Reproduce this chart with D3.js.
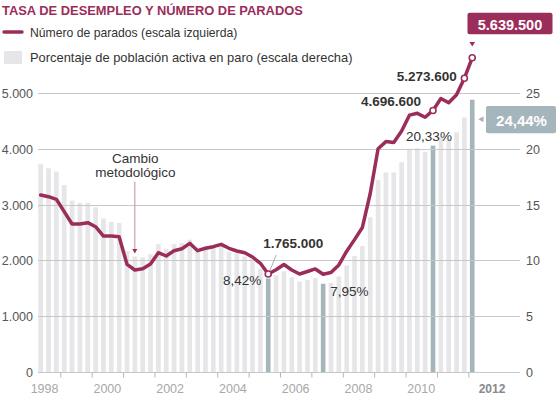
<!DOCTYPE html>
<html>
<head>
<meta charset="utf-8">
<script src="https://cdn.jsdelivr.net/npm/d3@7/dist/d3.min.js"></script>
<style>
  body { margin: 0; background: #fff; }
  svg { display: block; font-family: Arial, "Liberation Sans", sans-serif; }
</style>
</head>
<body>
<svg id="chart" width="560" height="398"></svg>
<script>
// trimestres (año-trimestre), de 1998 T2 a 2012 T1
const trimestres = [
  "1998-2","1998-3","1998-4",
  "1999-1","1999-2","1999-3","1999-4",
  "2000-1","2000-2","2000-3","2000-4",
  "2001-1","2001-2","2001-3","2001-4",
  "2002-1","2002-2","2002-3","2002-4",
  "2003-1","2003-2","2003-3","2003-4",
  "2004-1","2004-2","2004-3","2004-4",
  "2005-1","2005-2","2005-3","2005-4",
  "2006-1","2006-2","2006-3","2006-4",
  "2007-1","2007-2","2007-3","2007-4",
  "2008-1","2008-2","2008-3","2008-4",
  "2009-1","2009-2","2009-3","2009-4",
  "2010-1","2010-2","2010-3","2010-4",
  "2011-1","2011-2","2011-3","2011-4",
  "2012-1"
];

// número de parados, miles (escala izquierda)
const parados = [
  3181, 3151, 3104,
  2882, 2661, 2661, 2685,
  2613, 2446, 2446, 2434,
  1939, 1837, 1858, 1944,
  2147, 2088, 2183, 2219,
  2315, 2183, 2226, 2255,
  2297, 2226, 2177, 2147,
  2070, 1957, 1765, 1841,
  1936, 1837, 1765, 1810,
  1856, 1760, 1791, 1927,
  2174, 2381, 2599, 3208,
  4010, 4138, 4123, 4327,
  4612, 4645, 4575, 4696.6,
  4910, 4833, 4978, 5273.6,
  5639.5
];

// tasa de paro, % (escala derecha)
const tasa = [
  18.7, 18.3, 18.0,
  16.8, 15.4, 15.2, 15.2,
  14.8, 13.8, 13.5, 13.4,
  10.9, 10.4, 10.3, 10.6,
  11.5, 11.1, 11.5, 11.6,
  11.9, 11.0, 11.3, 11.3,
  11.4, 10.8, 10.7, 10.4,
  10.2, 9.33, 8.42, 8.70,
  9.07, 8.53, 8.15, 8.30,
  8.47, 7.95, 8.03, 8.60,
  9.60, 10.44, 11.33, 13.91,
  17.24, 17.92, 17.93, 18.83,
  20.05, 20.09, 19.79, 20.33,
  21.1, 20.89, 21.52, 22.85,
  24.44
];

const ticksIzq = [0, 1000, 2000, 3000, 4000, 5000];
const ticksDer = [0, 5, 10, 15, 20, 25];
const marcasAnio = [1999, 2000, 2001, 2002, 2003, 2004, 2005, 2006, 2007, 2008, 2009, 2010, 2011, 2012];
const etiquetasAnio = [1998, 2000, 2002, 2004, 2006, 2008, 2010];

const destacados = ["2005-3", "2007-2", "2010-4", "2012-1"];
const conCirculo = ["2005-3", "2010-4", "2011-4", "2012-1"];

const granate = "#9b2d5b";
const grisBarra = "#e6e6e9";
const azulGris = "#a5b5bc";
const fuente = "Arial, 'Liberation Sans', sans-serif";

const data = trimestres.map((q, i) => {
  const [a, t] = q.split("-").map(Number);
  return { q: q, t: a + (t - 1) / 4, parados: parados[i], tasa: tasa[i] };
});

const svg = d3.select("#chart");

const x = d3.scaleLinear().domain([1998, 2013]).range([28.9, 499.7]);
const yIzq = d3.scaleLinear().domain([0, 5000]).range([372.5, 93.5]);
const yDer = d3.scaleLinear().domain([0, 25]).range([372.5, 93.5]);
const slot = x(1998.25) - x(1998);
const pad = 1.6;
const cx = d => x(d.t) + slot / 2;

// titulo y leyenda
svg.append("text")
  .attr("x", 2).attr("y", 15)
  .attr("fill", granate)
  .style("font-size", "12.9px").style("font-weight", "bold")
  .text("TASA DE DESEMPLEO Y NÚMERO DE PARADOS");

svg.append("line")
  .attr("x1", 4).attr("x2", 22).attr("y1", 32).attr("y2", 32)
  .attr("stroke", granate).attr("stroke-width", 3.5).attr("stroke-linecap", "round");
svg.append("text")
  .attr("x", 30).attr("y", 36.5)
  .attr("fill", "#333").style("font-size", "12.2px")
  .text("Número de parados (escala izquierda)");

svg.append("rect")
  .attr("x", 4).attr("y", 51).attr("width", 18).attr("height", 13)
  .attr("fill", grisBarra);
svg.append("text")
  .attr("x", 30).attr("y", 62)
  .attr("fill", "#333").style("font-size", "12.9px")
  .text("Porcentaje de población activa en paro (escala derecha)");

// barras
svg.append("g")
  .selectAll("rect")
  .data(data)
  .join("rect")
  .attr("x", d => x(d.t) + pad)
  .attr("width", slot - 2 * pad)
  .attr("y", d => yDer(d.tasa))
  .attr("height", d => yDer(0) - yDer(d.tasa))
  .attr("fill", d => destacados.includes(d.q) ? azulGris : grisBarra);

// rejilla
svg.append("g")
  .selectAll("line")
  .data(ticksIzq)
  .join("line")
  .attr("x1", 38).attr("x2", 520)
  .attr("y1", d => yIzq(d)).attr("y2", d => yIzq(d))
  .attr("stroke", "#c8c8c8").attr("stroke-width", 1)
  .attr("shape-rendering", "crispEdges");

// ejes
const ejeIzq = svg.append("g")
  .attr("transform", "translate(33,0)")
  .call(d3.axisLeft(yIzq).tickValues(ticksIzq).tickSize(0).tickPadding(0)
    .tickFormat(d => d3.format(",")(d).replace(/,/g, ".")));
ejeIzq.select(".domain").remove();
ejeIzq.selectAll("text").attr("fill", "#555").style("font-size", "12.5px")
  .style("font-family", fuente);

const ejeDer = svg.append("g")
  .attr("transform", "translate(526,0)")
  .call(d3.axisRight(yDer).tickValues(ticksDer).tickSize(0).tickPadding(0));
ejeDer.select(".domain").remove();
ejeDer.selectAll("text").attr("fill", "#555").style("font-size", "12.5px")
  .style("font-family", fuente);

const ejeX = svg.append("g")
  .attr("transform", "translate(0," + yIzq(0) + ")")
  .call(d3.axisBottom(x).tickValues(marcasAnio).tickSize(5).tickFormat(""));
ejeX.select(".domain").remove();
ejeX.selectAll("line").attr("stroke", "#b5b5b5");

svg.append("g")
  .selectAll("text")
  .data(etiquetasAnio)
  .join("text")
  .attr("x", d => x(d + 0.5))
  .attr("y", 392.5)
  .attr("text-anchor", "middle")
  .attr("fill", "#a8a8a8").style("font-size", "12.5px")
  .text(d => d);
svg.append("text")
  .attr("x", x(2012.5) + 8).attr("y", 392.5)
  .attr("text-anchor", "middle")
  .attr("fill", "#8a8a8a").style("font-size", "12px").style("font-weight", "bold")
  .text("2012");

// cambio metodologico
const qCambio = 2001.375;
svg.append("text")
  .attr("x", x(qCambio) + 0.5).attr("y", 163)
  .attr("text-anchor", "middle").attr("fill", "#333").style("font-size", "13.5px")
  .text("Cambio");
svg.append("text")
  .attr("x", x(qCambio) + 0.5).attr("y", 177)
  .attr("text-anchor", "middle").attr("fill", "#333").style("font-size", "13.5px")
  .text("metodológico");
svg.append("line")
  .attr("x1", x(qCambio)).attr("x2", x(qCambio))
  .attr("y1", 181.5).attr("y2", 251)
  .attr("stroke", "#c48aa2").attr("stroke-width", 1);
svg.append("path")
  .attr("d", `M${x(qCambio) - 2.5},249 L${x(qCambio) + 2.5},249 L${x(qCambio)},253.5 Z`)
  .attr("fill", granate);

// linea de parados
const linea = d3.line()
  .x(cx)
  .y(d => yIzq(d.parados));

svg.append("path")
  .datum(data)
  .attr("d", linea)
  .attr("fill", "none")
  .attr("stroke", granate)
  .attr("stroke-width", 3.5)
  .attr("stroke-linejoin", "round")
  .attr("stroke-linecap", "round");

const porQ = q => data.find(d => d.q === q);

// linea guia 1.765.000
const p05 = porQ("2005-3");
svg.append("line")
  .attr("x1", cx(p05) + 1.5).attr("y1", yIzq(p05.parados) - 3)
  .attr("x2", cx(p05) + 8).attr("y2", yIzq(p05.parados) - 19)
  .attr("stroke", "#999").attr("stroke-width", 0.8);

svg.append("g")
  .selectAll("circle")
  .data(data.filter(d => conCirculo.includes(d.q)))
  .join("circle")
  .attr("cx", cx)
  .attr("cy", d => yIzq(d.parados))
  .attr("r", 3)
  .attr("fill", "#fff")
  .attr("stroke", granate)
  .attr("stroke-width", 1.6);

// etiquetas
const etiqueta = (txt, px, py, anchor, bold) => svg.append("text")
  .attr("x", px).attr("y", py)
  .attr("text-anchor", anchor)
  .attr("fill", "#333")
  .style("font-size", "13.5px")
  .style("font-weight", bold ? "bold" : "normal")
  .text(txt);

etiqueta("1.765.000", cx(p05) + 25, yIzq(p05.parados) - 26, "middle", true);
etiqueta("8,42%", cx(p05) - 7, yDer(p05.tasa) + 6.5, "end", false);

const p07 = porQ("2007-2");
etiqueta("7,95%", cx(p07) + 7, yDer(p07.tasa) + 12, "start", false);

const p10 = porQ("2010-4");
etiqueta("20,33%", cx(p10) - 4, yDer(p10.tasa) - 5, "middle", false);
etiqueta("4.696.600", cx(p10) - 12, yIzq(p10.parados) - 4, "end", true);

const p11 = porQ("2011-4");
etiqueta("5.273.600", cx(p11) - 7.5, yIzq(p11.parados) + 2.5, "end", true);

// caja 5.639.500
const p12 = porQ("2012-1");
svg.append("rect")
  .attr("x", 467.5).attr("y", 12.7).attr("width", 85).attr("height", 21.6)
  .attr("rx", 2).attr("fill", granate);
svg.append("text")
  .attr("x", 510).attr("y", 29.5)
  .attr("text-anchor", "middle").attr("fill", "#fff")
  .style("font-size", "14.5px").style("font-weight", "bold")
  .text("5.639.500");
svg.append("path")
  .attr("d", `M${cx(p12) - 2.8},42 L${cx(p12) + 2.8},42 L${cx(p12)},46.5 Z`)
  .attr("fill", granate);

// caja 24,44%
svg.append("rect")
  .attr("x", 486).attr("y", 106).attr("width", 70).attr("height", 27.3)
  .attr("rx", 2).attr("fill", azulGris);
svg.append("text")
  .attr("x", 521.5).attr("y", 125.5)
  .attr("text-anchor", "middle").attr("fill", "#fff")
  .style("font-size", "15px").style("font-weight", "bold")
  .text("24,44%");
svg.append("path")
  .attr("d", "M478.3,119.3 L483.5,116.3 L483.5,122.3 Z")
  .attr("fill", azulGris);
</script>
</body>
</html>
